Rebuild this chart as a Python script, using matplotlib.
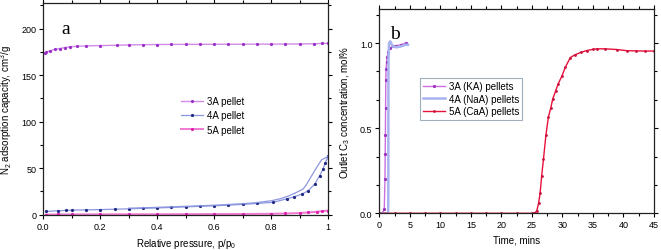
import matplotlib
matplotlib.use('Agg')
import matplotlib.pyplot as plt
from matplotlib.ticker import MultipleLocator

plt.rcParams['font.family'] = ['Liberation Sans', 'DejaVu Sans']
plt.rcParams['mathtext.default'] = 'regular'

# panel a: N2 isotherms
p_3a = [0.005, 0.01, 0.023, 0.04, 0.058, 0.075, 0.094, 0.12, 0.15, 0.2, 0.257, 0.3, 0.35, 0.4, 0.45,
        0.5, 0.55, 0.6, 0.65, 0.7, 0.75, 0.8, 0.85, 0.9, 0.95, 0.98, 1.0]
q_3a = [173.5, 174.5, 176.0, 177.5, 178.5, 179.5, 180.3, 180.9, 181.3, 181.7, 182.0, 182.4, 182.6, 182.8, 182.9,
        183.0, 183.0, 183.1, 183.1, 183.1, 183.2, 183.2, 183.3, 183.4, 183.6, 183.9, 184.2]

p_4a_ads = [0.01, 0.05, 0.08, 0.1, 0.15, 0.2, 0.25, 0.3, 0.35, 0.4, 0.45, 0.5, 0.55, 0.6, 0.65, 0.7,
            0.75, 0.807, 0.854, 0.88, 0.907, 0.93, 0.953, 0.97, 0.982, 0.99, 1.0]
q_4a_ads = [3.5, 4.2, 4.6, 4.9, 5.2, 5.5, 5.9, 6.3, 6.8, 7.3, 7.8, 8.4, 9.0, 9.6, 10.3, 11.1,
            12.1, 13.3, 17.0, 19.2, 22.0, 25.8, 33.0, 42.0, 49.0, 56.0, 62.6]
p_4a_des = [1.0, 0.99, 0.977, 0.96, 0.942, 0.925, 0.912, 0.889, 0.86, 0.83, 0.8, 0.75, 0.7, 0.6, 0.5, 0.4, 0.3]
q_4a_des = [62.6, 61.0, 59.0, 51.0, 41.8, 33.0, 27.6, 24.0, 20.0, 17.0, 15.0, 13.0, 11.8, 10.2, 9.0, 7.9, 7.0]

p_5a = [0.01, 0.05, 0.1, 0.2, 0.3, 0.4, 0.5, 0.6, 0.7, 0.8, 0.85, 0.9, 0.93, 0.96, 0.98, 1.0]
q_5a = [0.2, 0.3, 0.3, 0.4, 0.5, 0.5, 0.6, 0.7, 0.8, 1.0, 1.3, 1.8, 2.4, 3.2, 3.8, 4.5]

# panel b: C3 breakthrough curves
t_3a = [0, 0.5, 0.82, 0.93, 0.97, 1.0, 1.03, 1.07, 1.12, 1.2, 1.3, 1.45, 1.7, 2.2, 2.8, 3.5, 4.3]
c_3a = [0, 0, 0.025, 0.2, 0.35, 0.46, 0.62, 0.785, 0.85, 0.89, 0.92, 0.95, 0.97, 0.98, 0.985, 0.99, 1.0]

t_4a = [0, 1.45, 1.48, 1.5, 1.6, 1.8, 2.2, 2.8, 3.5, 4.3, 4.7]
c_4a = [0, 0, 0.1, 0.9, 1.0, 1.01, 0.98, 0.975, 0.98, 0.99, 0.99]

t_5a = [0, 2.5, 5, 7.5, 10, 12.5, 15, 17.5, 20, 22.5, 25, 25.5, 25.8, 26.1, 26.35, 26.6, 26.9, 27.3,
        27.7, 28.1, 28.4, 28.9, 29.3, 29.9, 30.5, 31.3, 32, 33, 34, 35, 35.6, 37, 38.9, 40.6, 42, 43.5, 45]
c_5a = [0, 0, 0, 0, 0, 0, 0, 0, 0, 0, 0, 0.003, 0.015, 0.06, 0.12, 0.22, 0.32, 0.46,
        0.565, 0.62, 0.67, 0.72, 0.76, 0.805, 0.86, 0.915, 0.93, 0.945, 0.956, 0.963, 0.966, 0.966, 0.962, 0.955, 0.954, 0.953, 0.953]

fig = plt.figure(figsize=(6.61, 2.51), dpi=100)
ax1 = fig.add_axes([0.0655, 0.1406, 0.431, 0.842])
ax2 = fig.add_axes([0.5738, 0.1462, 0.4156, 0.814])


def style_axes(ax):
    ax.tick_params(which='both', direction='out', top=True, right=True, labelsize=6.5, width=0.8, pad=2)
    ax.tick_params(which='major', length=3)
    ax.tick_params(which='minor', length=2)
    for s in ax.spines.values():
        s.set_linewidth(0.9)
        s.set_color('#222222')


# panel a
ax1.plot(p_3a, q_3a, color='#D08CE8', lw=1.0, marker='o', ms=1.3, mfc='#9B30C8', mec='#9B30C8', label='3A pellet')
ax1.plot(p_4a_ads, q_4a_ads, color='#8C96E0', lw=0.9, marker='o', ms=1.3, mfc='#1F2A80', mec='#1F2A80', label='4A pellet')
ax1.plot(p_4a_des, q_4a_des, color='#8C96E0', lw=0.9)
ax1.plot(p_5a, q_5a, color='#F07AD0', lw=1.4, marker='o', ms=1.3, mfc='#E020B0', mec='#E020B0', label='5A pellet')
ax1.set_xlim(0, 1)
ax1.set_ylim(0, 227)
ax1.xaxis.set_major_locator(MultipleLocator(0.2))
ax1.xaxis.set_minor_locator(MultipleLocator(0.1))
ax1.yaxis.set_major_locator(MultipleLocator(50))
ax1.yaxis.set_minor_locator(MultipleLocator(25))
ax1.xaxis.set_major_formatter(lambda v, pos: '1' if abs(v - 1) < 1e-9 else f'{v:.1f}')
style_axes(ax1)
ax1.set_xlabel('Relative pressure, p/p$_0$', fontsize=7, labelpad=4)
ax1.set_ylabel('N$_2$ adsorption capacity, cm$^3$/g', fontsize=7, labelpad=5)
ax1.text(0.065, 0.86, 'a', transform=ax1.transAxes, fontsize=14, family='Liberation Serif')
ax1.legend(loc='upper left', bbox_to_anchor=(0.47, 0.58), frameon=False, fontsize=7,
           handlelength=2.3, handletextpad=0.4, labelspacing=0.45, borderaxespad=0)

# panel b
ax2.plot(t_3a, c_3a, color='#CC6FE0', lw=1.0, marker='o', ms=1.3, mfc='#9933BB', mec='#9933BB', label='3A (KA) pellets')
ax2.plot(t_4a, c_4a, color='#A8B4F0', lw=1.8, label='4A (NaA) pellets')
ax2.plot(t_5a, c_5a, color='#E8103C', lw=1.0, marker='o', ms=1.0, mfc='#C8143C', mec='#C8143C', label='5A (CaA) pellets')
ax2.set_xlim(0, 45)
ax2.set_ylim(0, 1.2)
ax2.xaxis.set_major_locator(MultipleLocator(5))
ax2.xaxis.set_minor_locator(MultipleLocator(2.5))
ax2.yaxis.set_major_locator(MultipleLocator(0.5))
ax2.yaxis.set_minor_locator(MultipleLocator(1 / 6))
ax2.yaxis.set_major_formatter(lambda v, pos: f'{v:.1f}')
style_axes(ax2)
ax2.set_xlabel('Time, mins', fontsize=7, labelpad=4)
ax2.set_ylabel('Outlet C$_3$ concentration, mol%', fontsize=7, labelpad=6)
ax2.text(0.04, 0.86, 'b', transform=ax2.transAxes, fontsize=14, family='Liberation Serif')
leg = ax2.legend(loc='upper left', bbox_to_anchor=(0.148, 0.662), frameon=True, fancybox=False, fontsize=7,
                 handlelength=2.2, handletextpad=0.4, labelspacing=0.25, borderaxespad=0, borderpad=0.35)
leg.get_frame().set_edgecolor('#8899AA')
leg.get_frame().set_linewidth(0.8)

fig.savefig('out.png', dpi=100)
